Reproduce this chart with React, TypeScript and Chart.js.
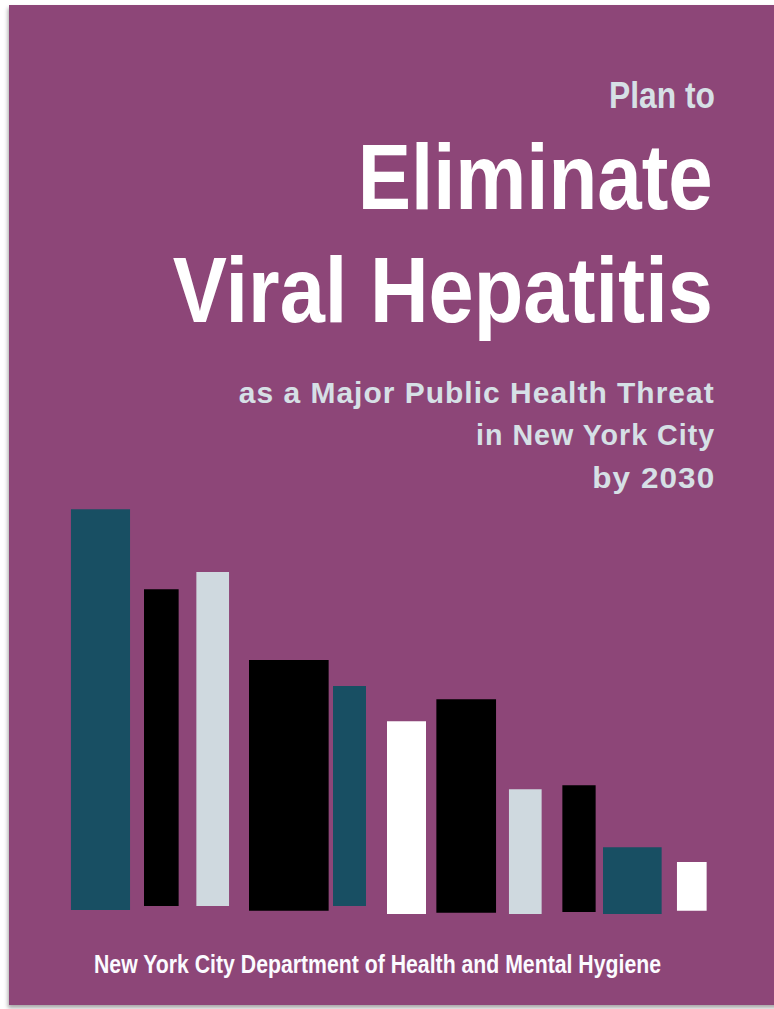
import React, { useEffect, useLayoutEffect, useRef } from "react";
import { Chart, registerables } from "chart.js";

Chart.register(...registerables);

const barNames = ["b1", "b2", "b3", "b4", "b5", "b6", "b7", "b8", "b9", "b10", "b11"];
const barLeft = [1.8, 14.0, 22.7, 31.5, 45.5, 54.5, 62.7, 74.8, 83.7, 90.5, 102.8];
const barRight = [11.7, 19.8, 28.2, 44.8, 51.0, 61.0, 72.7, 80.3, 89.3, 100.3, 107.8];
const barTop = [100.2, 80.2, 84.5, 62.5, 56.0, 47.2, 52.7, 30.2, 31.2, 15.7, 12.0];
const barBase = [0.0, 1.0, 1.0, -0.2, 1.0, -1.0, -0.7, -1.0, -0.5, -1.0, -0.2];
const barColors = [
  "#184f63", "#000000", "#cfd9df", "#000000", "#184f63", "#ffffff",
  "#000000", "#cfd9df", "#000000", "#184f63", "#ffffff",
];

const titleLines = ["Plan to", "Eliminate", "Viral Hepatitis"];
const subtitleLines = ["as a Major Public Health Threat", "in New York City", "by 2030"];
const footerText = "New York City Department of Health and Mental Hygiene";

const PURPLE = "#8d4678";
const LIGHT = "#d6e0e6";
const NARROW = '"Liberation Sans Narrow", "Arial Narrow", "Liberation Sans", Arial, sans-serif';

type TextSpec = {
  text: string;
  size: number;
  baseline: number;
  anchor: number; // x of anchored edge
  width: number; // target rendered width
  align: "right" | "left";
  color: string;
  spacing: number;
};

const textSpecs: TextSpec[] = [
  { text: titleLines[0], size: 36, baseline: 108, anchor: 715, width: 106, align: "right", color: LIGHT, spacing: 0 },
  { text: titleLines[1], size: 93.5, baseline: 209, anchor: 713, width: 355, align: "right", color: "#ffffff", spacing: 0 },
  { text: titleLines[2], size: 93.5, baseline: 322, anchor: 713, width: 540, align: "right", color: "#ffffff", spacing: 0 },
  { text: subtitleLines[0], size: 29.5, baseline: 403, anchor: 714, width: 475, align: "right", color: LIGHT, spacing: 1 },
  { text: subtitleLines[1], size: 29.5, baseline: 445, anchor: 714, width: 238, align: "right", color: LIGHT, spacing: 1 },
  { text: subtitleLines[2], size: 29.5, baseline: 488, anchor: 714, width: 122, align: "right", color: LIGHT, spacing: 1 },
  { text: footerText, size: 25, baseline: 973, anchor: 94, width: 567, align: "left", color: "#fbfbff", spacing: 0 },
];

function FittedText({ spec }: { spec: TextSpec }) {
  const ref = useRef<HTMLSpanElement | null>(null);
  useLayoutEffect(() => {
    const el = ref.current;
    if (!el) return;
    el.style.transform = "none";
    const w = el.getBoundingClientRect().width - spec.spacing;
    if (w > 0) {
      el.style.transform = `scaleX(${spec.width / w})`;
    }
  }, [spec]);
  const top = spec.baseline - spec.size * 0.847;
  const style: React.CSSProperties = {
    position: "absolute",
    top,
    fontFamily: NARROW,
    fontWeight: 700,
    fontSize: spec.size,
    lineHeight: `${spec.size}px`,
    letterSpacing: spec.spacing,
    color: spec.color,
    whiteSpace: "nowrap",
    transformOrigin: spec.align === "right" ? "right center" : "left center",
  };
  if (spec.align === "right") style.right = 774 - spec.anchor - spec.spacing;
  else style.left = spec.anchor;
  return (
    <span ref={ref} style={style}>
      {spec.text}
    </span>
  );
}

function BarsChart() {
  const canvasRef = useRef<HTMLCanvasElement | null>(null);
  useEffect(() => {
    if (!canvasRef.current) return;
    const datasets = barNames.map((name, i) => ({
      label: name,
      data: [
        { x: barLeft[i], y: barTop[i] },
        { x: barRight[i], y: barTop[i] },
      ],
      fill: { value: barBase[i] },
      backgroundColor: barColors[i],
      borderColor: barColors[i],
      borderWidth: 0,
      pointRadius: 0,
      pointHoverRadius: 0,
      tension: 0,
    }));
    const chart = new Chart(canvasRef.current, {
      type: "line",
      data: { datasets },
      options: {
        animation: false,
        responsive: true,
        maintainAspectRatio: false,
        events: [],
        layout: { padding: 0 },
        plugins: {
          legend: { display: false },
          tooltip: { enabled: false },
          title: { display: false },
        },
        scales: {
          x: { type: "linear", min: 0, max: 110, display: false },
          y: { type: "linear", min: -2.5, max: 103.75, display: false },
        },
      },
    });
    return () => chart.destroy();
  }, []);
  return (
    <div style={{ position: "absolute", left: 60, top: 495, width: 660, height: 425 }}>
      <canvas ref={canvasRef} />
    </div>
  );
}

export default function App() {
  return (
    <div
      style={{
        position: "absolute",
        left: 0,
        top: 0,
        width: 774,
        height: 1009,
        background: "#ffffff",
        overflow: "hidden",
      }}
    >
      <div
        style={{
          position: "absolute",
          left: 9,
          top: 5,
          width: 780,
          height: 1000,
          background: PURPLE,
          boxShadow: "-1px 3px 4px rgba(0,0,0,0.35)",
        }}
      />
      <BarsChart />
      {textSpecs.map((s, i) => (
        <FittedText key={i} spec={s} />
      ))}
    </div>
  );
}
